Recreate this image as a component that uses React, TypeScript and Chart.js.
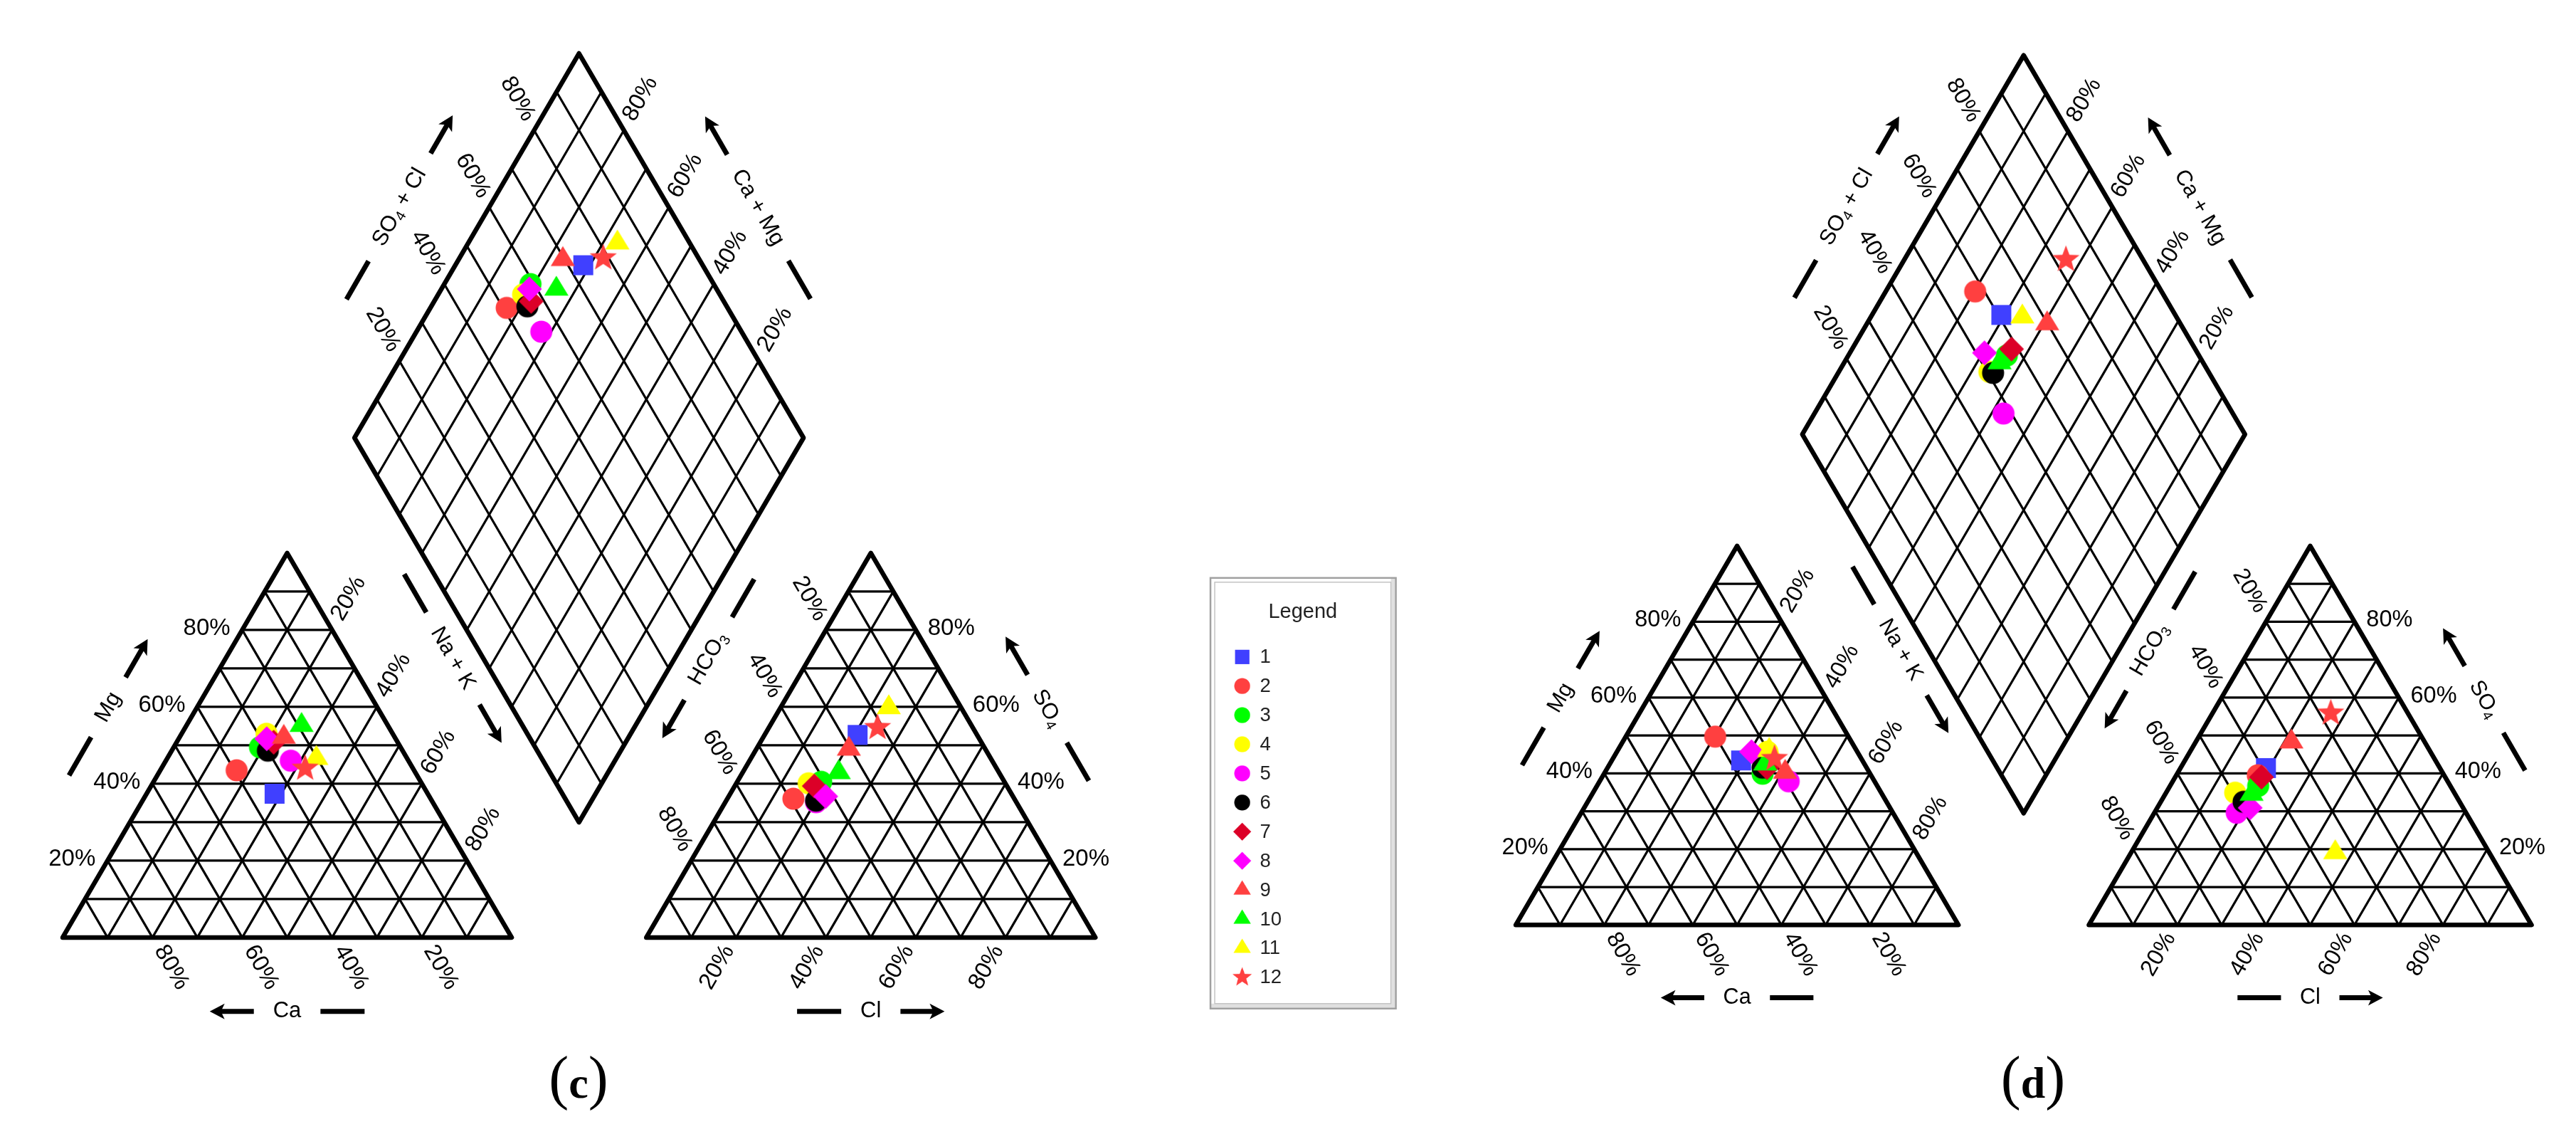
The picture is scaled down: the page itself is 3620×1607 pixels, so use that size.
import React, { useEffect, useRef } from 'react';
import { Chart, registerables } from 'chart.js';

Chart.register(...registerables);

const CANVAS_W = 3620;
const CANVAS_H = 1607;

// ---------------- data ----------------
const sampleLabels = ['1', '2', '3', '4', '5', '6', '7', '8', '9', '10', '11', '12'];
const sampleColors = ['#4040FF', '#FF4040', '#00FF00', '#FFFF00', '#FF00FF', '#000000', '#DC0028', '#FF00FF', '#FF4040', '#00FF00', '#FFFF00', '#FF4040'];
const sampleShapes = ['square', 'circle', 'circle', 'circle', 'circle', 'circle', 'diamond', 'diamond', 'triangle', 'triangle', 'triangle', 'star'];

// panel (c) cations (% meq/L)
const cCa = [34.1, 39.5, 31.3, 28.1, 26.2, 30.0, 27.6, 28.7, 24.7, 19.2, 20.2, 24.0];
const cMg = [37.4, 43.5, 49.5, 53.0, 46.0, 48.6, 50.8, 51.7, 52.1, 55.2, 46.6, 44.0];
const cNaK = [28.5, 17.0, 19.2, 18.9, 27.8, 21.4, 21.6, 19.6, 23.2, 25.6, 33.2, 32.0];
// panel (c) anions
const cHCO3 = [26.6, 49.2, 40.8, 43.8, 44.6, 44.4, 42.9, 41.7, 30.4, 35.7, 16.1, 21.2];
const cSO4 = [52.7, 36.1, 40.5, 40.1, 35.2, 35.6, 39.4, 36.7, 49.0, 42.9, 59.8, 54.6];
const cCl = [20.7, 14.7, 18.7, 16.1, 20.2, 20.0, 17.7, 21.6, 20.6, 21.4, 24.1, 24.2];
// panel (d) cations
const dCa = [27.4, 30.1, 24.3, 20.3, 19.4, 23.5, 22.5, 23.9, 19.0, 22.4, 19.7, 19.6];
const dMg = [43.4, 49.7, 39.9, 45.7, 37.9, 41.5, 41.5, 45.7, 40.3, 42.5, 46.1, 43.9];
const dNaK = [29.2, 20.2, 35.8, 34.0, 42.7, 35.0, 36.0, 30.4, 40.7, 35.1, 34.2, 36.5];
// panel (d) anions
const dHCO3 = [39.3, 42.1, 43.4, 49.5, 51.8, 48.8, 41.5, 48.1, 30.1, 46.0, 34.8, 17.4];
const dSO4 = [41.4, 39.5, 36.7, 34.9, 29.6, 32.5, 39.0, 30.9, 48.3, 34.5, 19.1, 55.9];
const dCl = [19.3, 18.4, 19.9, 15.6, 18.6, 18.7, 19.5, 21.0, 21.6, 19.5, 46.1, 26.7];

const tickValues = [20, 40, 60, 80];
const gridSteps = [10, 20, 30, 40, 50, 60, 70, 80, 90];
const panelNames = ['c', 'd'];
const legendTitle = 'Legend';

// ---------------- geometry ----------------
type Pt = { x: number; y: number };
type Panel = { x0: number; base: number; a: number; g: number; labelX: number; labelY: number };
const R3 = Math.sqrt(3) / 2;
const panels: Panel[] = [
  { x0: 71.7, base: 1328, a: 637, g: 191, labelX: 803.5, labelY: 1558 },
  { x0: 2133.1, base: 1310, a: 628, g: 185, labelX: 2867, labelY: 1558 },
];
const legendBox = { x0: 1700, y0: 812, x1: 1963, y1: 1430 };

function cat(p: Panel, mg: number, na: number): Pt {
  return { x: p.x0 + (p.a * (na + mg / 2)) / 100, y: p.base - (p.a * R3 * mg) / 100 };
}
function ani(p: Panel, so4: number, cl: number): Pt {
  const ox = p.x0 + p.a + p.g;
  return { x: ox + (p.a * (cl + so4 / 2)) / 100, y: p.base - (p.a * R3 * so4) / 100 };
}
function dia(p: Panel, nak: number, s: number): Pt {
  const bx = p.x0 + p.a + p.g / 2;
  const by = p.base - p.g * R3;
  const lx = bx - p.a / 2;
  const ly = by - p.a * R3;
  return { x: lx + (p.a * (s + nak)) / 200, y: ly - (p.a * R3 * s) / 100 + (p.a * R3 * nak) / 100 };
}
const mid = (a: Pt, b: Pt): Pt => ({ x: (a.x + b.x) / 2, y: (a.y + b.y) / 2 });
const add = (a: Pt, v: Pt, s: number): Pt => ({ x: a.x + v.x * s, y: a.y + v.y * s });

// ---------------- markers ----------------
function makeMarker(shape: string, color: string): HTMLCanvasElement {
  const c = document.createElement('canvas');
  c.width = 44;
  c.height = 44;
  const g = c.getContext('2d') as CanvasRenderingContext2D;
  g.fillStyle = color;
  g.translate(22, 22);
  g.beginPath();
  if (shape === 'square') {
    g.rect(-14, -14, 28, 28);
  } else if (shape === 'circle') {
    g.arc(0, 0, 15.5, 0, Math.PI * 2);
  } else if (shape === 'diamond') {
    g.moveTo(0, -17.5);
    g.lineTo(17.5, 0);
    g.lineTo(0, 17.5);
    g.lineTo(-17.5, 0);
    g.closePath();
  } else if (shape === 'triangle') {
    const h = 28;
    g.moveTo(0, (-2 * h) / 3);
    g.lineTo(17, h / 3);
    g.lineTo(-17, h / 3);
    g.closePath();
  } else {
    for (let i = 0; i < 10; i++) {
      const r = i % 2 === 0 ? 20 : 8.4;
      const ang = -Math.PI / 2 + (i * Math.PI) / 5;
      const x = r * Math.cos(ang);
      const y = r * Math.sin(ang);
      if (i === 0) g.moveTo(x, y);
      else g.lineTo(x, y);
    }
    g.closePath();
  }
  g.fill();
  return c;
}

type Part = { t: string; sub?: boolean };
const SANS = '"Liberation Sans", Arial, sans-serif';
const SERIF = '"Liberation Serif", "Times New Roman", serif';

function measureParts(ctx: CanvasRenderingContext2D, parts: Part[], size: number) {
  let w = 0;
  for (const p of parts) {
    ctx.font = `${p.sub ? size * 0.65 : size}px ${SANS}`;
    w += ctx.measureText(p.t).width;
  }
  return w;
}
function drawParts(ctx: CanvasRenderingContext2D, parts: Part[], x: number, size: number) {
  let cx = x;
  ctx.textAlign = 'left';
  ctx.textBaseline = 'middle';
  for (const p of parts) {
    const s = p.sub ? size * 0.65 : size;
    ctx.font = `${s}px ${SANS}`;
    ctx.fillText(p.t, cx, p.sub ? size * 0.27 : 0);
    cx += ctx.measureText(p.t).width;
  }
}

export default function App() {
  const ref = useRef<HTMLCanvasElement>(null);

  useEffect(() => {
    document.body.style.margin = '0';
    document.body.style.overflow = 'hidden';
    const canvas = ref.current as HTMLCanvasElement;
    const markers = sampleShapes.map((s, i) => makeMarker(s, sampleColors[i]));

    const cSets = [
      { Mg: cMg, Na: cNaK, Ca: cCa, SO4: cSO4, Cl: cCl, HCO3: cHCO3 },
      { Mg: dMg, Na: dNaK, Ca: dCa, SO4: dSO4, Cl: dCl, HCO3: dHCO3 },
    ];

    const datasets = sampleLabels.map((lab, i) => {
      const data: Pt[] = [];
      panels.forEach((p, pi) => {
        const s = cSets[pi];
        data.push(cat(p, s.Mg[i], s.Na[i]));
        data.push(ani(p, s.SO4[i], s.Cl[i]));
        data.push(dia(p, s.Na[i], 100 - s.HCO3[i]));
      });
      return {
        label: lab,
        data,
        pointStyle: markers[i],
        pointRadius: 16,
        pointHoverRadius: 16,
        backgroundColor: sampleColors[i],
        borderColor: sampleColors[i],
        showLine: false,
        order: sampleLabels.length - i,
      };
    });

    const framePlugin = {
      id: 'piperFrame',
      beforeDatasetsDraw(chart: any) {
        const ctx: CanvasRenderingContext2D = chart.ctx;
        const sx = chart.scales.x;
        const sy = chart.scales.y;
        const P = (p: Pt): Pt => ({ x: sx.getPixelForValue(p.x), y: sy.getPixelForValue(p.y) });
        ctx.save();
        ctx.strokeStyle = '#000';
        ctx.fillStyle = '#000';
        ctx.lineCap = 'round';
        ctx.lineJoin = 'round';

        const seg = (a: Pt, b: Pt, w: number) => {
          const A = P(a), B = P(b);
          ctx.lineWidth = w;
          ctx.beginPath();
          ctx.moveTo(A.x, A.y);
          ctx.lineTo(B.x, B.y);
          ctx.stroke();
        };
        const poly = (pts: Pt[], w: number) => {
          ctx.lineWidth = w;
          ctx.beginPath();
          pts.forEach((q, i) => {
            const Q = P(q);
            if (i === 0) ctx.moveTo(Q.x, Q.y);
            else ctx.lineTo(Q.x, Q.y);
          });
          ctx.closePath();
          ctx.stroke();
        };
        const tick = (edge: Pt, dir: Pt, angle: number, align: 'left' | 'right', text: string, k: number) => {
          const anchor = P(add(edge, dir, 17 * k));
          ctx.save();
          ctx.translate(anchor.x, anchor.y);
          ctx.rotate(angle);
          ctx.font = `${33 * k}px ${SANS}`;
          ctx.textAlign = align;
          ctx.textBaseline = 'middle';
          ctx.fillText(text, 0, -2 * k);
          ctx.restore();
        };
        const arrowShape = (from: number, to: number, k: number) => {
          const dir = Math.sign(to - from);
          const headL = 21 * k;
          const hw = 11 * k;
          ctx.lineWidth = 7 * k;
          ctx.lineCap = 'butt';
          ctx.beginPath();
          ctx.moveTo(from, 0);
          ctx.lineTo(to - dir * headL * 0.7, 0);
          ctx.stroke();
          ctx.beginPath();
          ctx.moveTo(to, 0);
          ctx.lineTo(to - dir * headL, -hw);
          ctx.lineTo(to - dir * headL * 0.75, 0);
          ctx.lineTo(to - dir * headL, hw);
          ctx.closePath();
          ctx.fill();
        };
        const title = (c: Pt, v: Pt, parts: Part[], arrowAtEnd: boolean, k: number) => {
          const C = P(c);
          const size = 31 * k;
          ctx.save();
          ctx.translate(C.x, C.y);
          ctx.rotate(Math.atan2(v.y, v.x));
          const w = measureParts(ctx, parts, size);
          drawParts(ctx, parts, -w / 2, size);
          const s1 = w / 2 + 27 * k;
          const s2 = s1 + 62 * k;
          ctx.lineWidth = 7 * k;
          ctx.lineCap = 'butt';
          if (arrowAtEnd) {
            ctx.beginPath();
            ctx.moveTo(-s2, 0);
            ctx.lineTo(-s1, 0);
            ctx.stroke();
            arrowShape(s1, s2, k);
          } else {
            arrowShape(-s1, -s2, k);
            ctx.beginPath();
            ctx.moveTo(s1, 0);
            ctx.lineTo(s2, 0);
            ctx.stroke();
          }
          ctx.restore();
        };

        const up60 = { x: 0.5, y: -R3 };
        const dn60 = { x: 0.5, y: R3 };
        const A60 = Math.PI / 3;

        panels.forEach((pn) => {
          const k = pn.a / 637;
          const inner = 3.2;
          const outer = 6.5;
          ctx.lineCap = 'round';
          for (const s of gridSteps) {
            seg(cat(pn, s, 0), cat(pn, s, 100 - s), inner);
            seg(cat(pn, 0, s), cat(pn, 100 - s, s), inner);
            seg(cat(pn, 0, 100 - s), cat(pn, 100 - s, 0), inner);
            seg(ani(pn, s, 0), ani(pn, s, 100 - s), inner);
            seg(ani(pn, 0, s), ani(pn, 100 - s, s), inner);
            seg(ani(pn, 0, 100 - s), ani(pn, 100 - s, 0), inner);
            seg(dia(pn, 0, s), dia(pn, 100, s), inner);
            seg(dia(pn, s, 0), dia(pn, s, 100), inner);
          }
          poly([cat(pn, 0, 0), cat(pn, 100, 0), cat(pn, 0, 100)], outer);
          poly([ani(pn, 0, 0), ani(pn, 100, 0), ani(pn, 0, 100)], outer);
          poly([dia(pn, 0, 0), dia(pn, 0, 100), dia(pn, 100, 100), dia(pn, 100, 0)], outer);

          for (const t of tickValues) {
            const lab = `${t}%`;
            tick(cat(pn, t, 0), { x: -1, y: 0 }, 0, 'right', lab, k); // Mg
            tick(cat(pn, 0, 100 - t), dn60, A60, 'left', lab, k); // Ca
            tick(cat(pn, 100 - t, t), up60, -A60, 'left', lab, k); // Na+K
            tick(ani(pn, 100 - t, 0), { x: -0.5, y: -R3 }, A60, 'right', lab, k); // HCO3
            tick(ani(pn, t, 100 - t), { x: 1, y: 0 }, 0, 'left', lab, k); // SO4
            tick(ani(pn, 0, t), { x: -0.5, y: R3 }, -A60, 'right', lab, k); // Cl
            tick(dia(pn, 0, t), { x: -0.5, y: -R3 }, A60, 'right', lab, k); // SO4+Cl
            tick(dia(pn, 100 - t, 100), up60, -A60, 'left', lab, k); // Ca+Mg
          }

          const nL = { x: -R3, y: -0.5 };
          const nR = { x: R3, y: -0.5 };
          const catL = mid(cat(pn, 0, 0), cat(pn, 100, 0));
          const catR = mid(cat(pn, 0, 100), cat(pn, 100, 0));
          const catB = mid(cat(pn, 0, 0), cat(pn, 0, 100));
          const aniL = mid(ani(pn, 0, 0), ani(pn, 100, 0));
          const aniR = mid(ani(pn, 0, 100), ani(pn, 100, 0));
          const aniB = mid(ani(pn, 0, 0), ani(pn, 0, 100));
          const diaUL = mid(dia(pn, 0, 0), dia(pn, 0, 100));
          const diaUR = mid(dia(pn, 0, 100), dia(pn, 100, 100));
          title(add(catL, nL, 109 * k), up60, [{ t: 'Mg' }], true, k);
          title(add(catB, { x: 0, y: 1 }, 106 * k), { x: 1, y: 0 }, [{ t: 'Ca' }], false, k);
          title(add(add(catR, nR, 128 * k), dn60, -70 * k), dn60, [{ t: 'Na + K' }], true, k);
          title(add(add(aniL, nL, 124 * k), up60, 72 * k), up60, [{ t: 'HCO' }, { t: '3', sub: true }], false, k);
          title(add(aniR, nR, 105 * k), dn60, [{ t: 'SO' }, { t: '4', sub: true }], false, k);
          title(add(aniB, { x: 0, y: 1 }, 106 * k), { x: 1, y: 0 }, [{ t: 'Cl' }], true, k);
          title(add(diaUL, nL, 110 * k), up60, [{ t: 'SO' }, { t: '4', sub: true }, { t: ' + Cl' }], true, k);
          title(add(diaUR, nR, 109 * k), dn60, [{ t: 'Ca + Mg' }], false, k);
        });
        ctx.restore();
      },
      afterDatasetsDraw(chart: any) {
        const ctx: CanvasRenderingContext2D = chart.ctx;
        const sx = chart.scales.x;
        const sy = chart.scales.y;
        const P = (p: Pt): Pt => ({ x: sx.getPixelForValue(p.x), y: sy.getPixelForValue(p.y) });
        ctx.save();
        panels.forEach((pn, i) => {
          const L = P({ x: pn.labelX, y: pn.labelY });
          ctx.fillStyle = '#000';
          ctx.textBaseline = 'alphabetic';
          ctx.textAlign = 'left';
          const pf = `84px ${SERIF}`;
          const bf = `bold 62px ${SERIF}`;
          ctx.font = pf;
          const wp = ctx.measureText('(').width;
          const wq = ctx.measureText(')').width;
          ctx.font = bf;
          const wc = ctx.measureText(panelNames[i]).width;
          let x = L.x - (wp + wc + wq) / 2;
          ctx.font = pf;
          ctx.fillText('(', x, L.y);
          x += wp;
          ctx.font = bf;
          ctx.fillText(panelNames[i], x, L.y);
          x += wc;
          ctx.font = pf;
          ctx.fillText(')', x, L.y);
        });

        // legend box with bevelled double border
        const b0 = P({ x: legendBox.x0, y: legendBox.y0 });
        const b1 = P({ x: legendBox.x1, y: legendBox.y1 });
        const bw = b1.x - b0.x;
        const bh = b1.y - b0.y;
        ctx.fillStyle = '#e0e0e0';
        ctx.fillRect(b1.x - 7, b0.y + 1, 6, bh - 2);
        ctx.fillRect(b0.x + 1, b1.y - 7, bw - 2, 6);
        ctx.lineWidth = 2.5;
        ctx.strokeStyle = '#a0a0a0';
        ctx.strokeRect(b0.x, b0.y, bw, bh);
        ctx.lineWidth = 1.5;
        ctx.strokeStyle = '#c4c4c4';
        ctx.strokeRect(b0.x + 6, b0.y + 6, bw - 13, bh - 13);

        const txt = (t: string, p: Pt, size: number, align: CanvasTextAlign) => {
          const Q = P(p);
          ctx.font = `${size}px ${SANS}`;
          ctx.fillStyle = '#222';
          ctx.textAlign = align;
          ctx.textBaseline = 'middle';
          ctx.fillText(t, Q.x, Q.y);
        };
        txt(legendTitle, { x: 1831, y: 861 }, 29, 'center');
        sampleLabels.forEach((lab, i) => {
          const cy = 925.3 + i * 41.8;
          const m = markers[i];
          const Q = P({ x: 1745, y: cy });
          const w = m.width * 0.72;
          const h = m.height * 0.72;
          ctx.drawImage(m, Q.x - w / 2, Q.y - h / 2, w, h);
          txt(lab, { x: 1770, y: cy + 1 }, 27.5, 'left');
        });
        ctx.restore();
      },
    };

    const chart = new Chart(canvas, {
      type: 'scatter',
      data: { datasets: datasets as any },
      options: {
        responsive: false,
        animation: false,
        devicePixelRatio: 1,
        events: [],
        layout: { padding: 0 },
        scales: {
          x: { type: 'linear', min: 0, max: CANVAS_W, display: false },
          y: { type: 'linear', min: 0, max: CANVAS_H, reverse: true, display: false },
        },
        plugins: {
          legend: { display: false },
          tooltip: { enabled: false },
        },
      },
      plugins: [framePlugin as any],
    });
    return () => chart.destroy();
  }, []);

  return (
    <div style={{ width: CANVAS_W, height: CANVAS_H, background: '#fff' }}>
      <canvas ref={ref} width={CANVAS_W} height={CANVAS_H} style={{ display: 'block' }} />
    </div>
  );
}
